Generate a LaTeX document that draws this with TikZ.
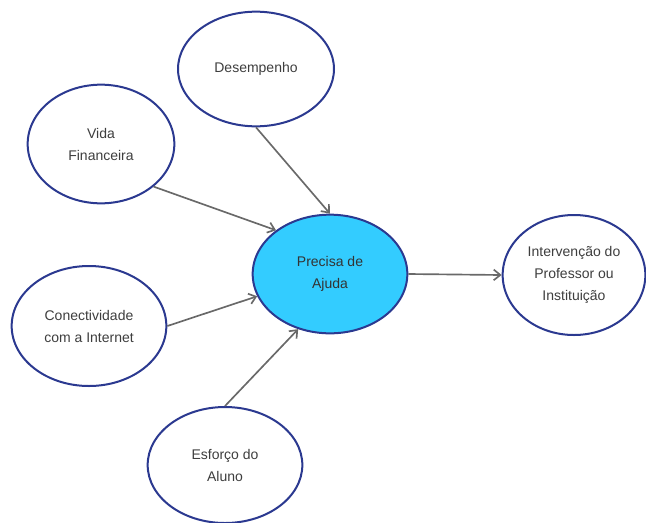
\documentclass[tikz,border=0pt]{standalone}
\usepackage{fontspec}
\setmainfont{Liberation Sans}
\usepackage{xcolor}
\usetikzlibrary{shapes.geometric,arrows.meta}

\definecolor{rim}{RGB}{43,57,144}
\definecolor{hub}{RGB}{51,204,255}
\definecolor{txt}{RGB}{62,62,62}
\definecolor{link}{RGB}{105,105,105}

\tikzset{
  factor/.style={ellipse, draw=rim, line width=1.5pt, fill=white, inner sep=0pt,
    align=center, text=txt, font=\fontsize{10.5}{16.5}\selectfont},
  flow/.style={draw=link, line width=1.25pt, -{Straight Barb[length=5pt,width=8pt]}}
}

\begin{document}
\begin{tikzpicture}[x=0.75pt,y=-0.75pt]

\useasboundingbox (0,0) rectangle (646,522);

%factors
\node[factor, minimum width=117pt, minimum height=86pt] at (256, 69) (desemp) {Desempenho};
\node[factor, minimum width=110pt, minimum height=89pt] at (101, 144) (vida) {Vida\\Financeira};
\node[factor, minimum width=116pt, minimum height=90pt] at (89, 326) (conect) {Conectividade\\com a Internet};
\node[factor, minimum width=116pt, minimum height=87pt] at (225, 465) (esforco) {Esforço do\\Aluno};

%center and result
\node[factor, fill=hub, text=black!80, minimum width=116pt, minimum height=89pt] at (330, 274) (ajuda) {Precisa de\\Ajuda};
\node[factor, minimum width=107pt, minimum height=90pt] at (574, 275) (interv) {Intervenção do\\Professor ou\\Instituição};

%arrows
\draw[flow] (desemp.south) -- (ajuda.north);
\draw[flow] (vida.-39) -- (ajuda.141);
\draw[flow] (conect.east) -- (ajuda.-163);
\draw[flow] (esforco.north) -- (ajuda.-120);
\draw[flow] (ajuda.east) -- (interv.west);

\end{tikzpicture}
\end{document}
